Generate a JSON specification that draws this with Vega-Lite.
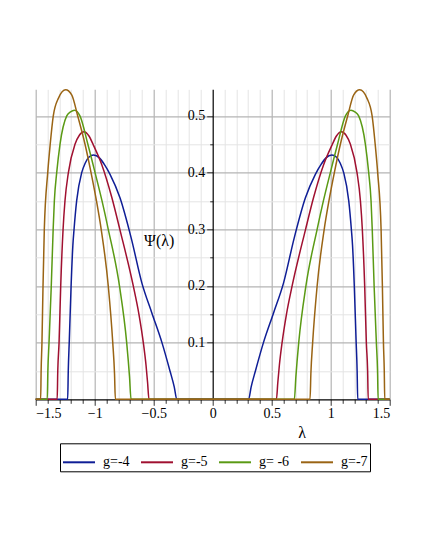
{
  "$schema": "https://vega.github.io/schema/vega-lite/v6.json",
  "width": 354,
  "height": 310,
  "autosize": {"type": "none"},
  "padding": {"left": 35.7, "top": 89.3, "right": 41.3, "bottom": 158.7},
  "background": "white",
  "config": {
    "view": {"stroke": null},
    "axis": {
      "labelFont": "Liberation Serif",
      "labelFontSize": 14,
      "labelColor": "black",
      "titleFont": "Liberation Serif",
      "titleFontSize": 16,
      "titleFontWeight": "normal",
      "titleColor": "black",
      "domainColor": "black",
      "tickColor": "#333333"
    }
  },
  "data": {
    "values": [
      {"g":"g=-4","x":-1.5,"y":0},{"g":"g=-4","x":-1.229,"y":0},{"g":"g=-4","x":-1.224,"y":0.05},{"g":"g=-4","x":-1.215,"y":0.105},{"g":"g=-4","x":-1.2,"y":0.2},{"g":"g=-4","x":-1.185,"y":0.272},{"g":"g=-4","x":-1.175,"y":0.3},{"g":"g=-4","x":-1.153,"y":0.35},{"g":"g=-4","x":-1.11,"y":0.4},{"g":"g=-4","x":-1.082,"y":0.416},{"g":"g=-4","x":-1.05,"y":0.427},{"g":"g=-4","x":-1.01,"y":0.431},{"g":"g=-4","x":-0.96,"y":0.426},{"g":"g=-4","x":-0.92,"y":0.415},{"g":"g=-4","x":-0.87,"y":0.397},{"g":"g=-4","x":-0.785,"y":0.355},{"g":"g=-4","x":-0.69,"y":0.284},{"g":"g=-4","x":-0.6,"y":0.205},{"g":"g=-4","x":-0.515,"y":0.152},{"g":"g=-4","x":-0.43,"y":0.1},{"g":"g=-4","x":-0.362,"y":0.05},{"g":"g=-4","x":-0.326,"y":0.022},{"g":"g=-4","x":-0.304,"y":0},
      {"g":"g=-4","x":0.304,"y":0},{"g":"g=-4","x":0.326,"y":0.022},{"g":"g=-4","x":0.362,"y":0.05},{"g":"g=-4","x":0.43,"y":0.1},{"g":"g=-4","x":0.515,"y":0.152},{"g":"g=-4","x":0.6,"y":0.205},{"g":"g=-4","x":0.69,"y":0.284},{"g":"g=-4","x":0.785,"y":0.355},{"g":"g=-4","x":0.87,"y":0.397},{"g":"g=-4","x":0.92,"y":0.415},{"g":"g=-4","x":0.96,"y":0.426},{"g":"g=-4","x":1.01,"y":0.431},{"g":"g=-4","x":1.05,"y":0.427},{"g":"g=-4","x":1.082,"y":0.416},{"g":"g=-4","x":1.11,"y":0.4},{"g":"g=-4","x":1.153,"y":0.35},{"g":"g=-4","x":1.175,"y":0.3},{"g":"g=-4","x":1.185,"y":0.272},{"g":"g=-4","x":1.2,"y":0.2},{"g":"g=-4","x":1.215,"y":0.105},{"g":"g=-4","x":1.224,"y":0.05},{"g":"g=-4","x":1.229,"y":0},{"g":"g=-4","x":1.5,"y":0},

      {"g":"g=-5","x":-1.5,"y":0},{"g":"g=-5","x":-1.318,"y":0},{"g":"g=-5","x":-1.313,"y":0.05},{"g":"g=-5","x":-1.302,"y":0.1},{"g":"g=-5","x":-1.288,"y":0.2},{"g":"g=-5","x":-1.268,"y":0.3},{"g":"g=-5","x":-1.252,"y":0.35},{"g":"g=-5","x":-1.223,"y":0.4},{"g":"g=-5","x":-1.167,"y":0.45},{"g":"g=-5","x":-1.13,"y":0.466},{"g":"g=-5","x":-1.09,"y":0.472},{"g":"g=-5","x":-1.05,"y":0.465},{"g":"g=-5","x":-1.01,"y":0.448},{"g":"g=-5","x":-0.94,"y":0.414},{"g":"g=-5","x":-0.856,"y":0.357},{"g":"g=-5","x":-0.786,"y":0.299},{"g":"g=-5","x":-0.673,"y":0.2},{"g":"g=-5","x":-0.625,"y":0.15},{"g":"g=-5","x":-0.588,"y":0.1},{"g":"g=-5","x":-0.565,"y":0.06},{"g":"g=-5","x":-0.552,"y":0.03},{"g":"g=-5","x":-0.54,"y":0},
      {"g":"g=-5","x":0.54,"y":0},{"g":"g=-5","x":0.552,"y":0.03},{"g":"g=-5","x":0.565,"y":0.06},{"g":"g=-5","x":0.588,"y":0.1},{"g":"g=-5","x":0.625,"y":0.15},{"g":"g=-5","x":0.673,"y":0.2},{"g":"g=-5","x":0.786,"y":0.299},{"g":"g=-5","x":0.856,"y":0.357},{"g":"g=-5","x":0.94,"y":0.414},{"g":"g=-5","x":1.01,"y":0.448},{"g":"g=-5","x":1.05,"y":0.465},{"g":"g=-5","x":1.09,"y":0.472},{"g":"g=-5","x":1.13,"y":0.466},{"g":"g=-5","x":1.167,"y":0.45},{"g":"g=-5","x":1.223,"y":0.4},{"g":"g=-5","x":1.252,"y":0.35},{"g":"g=-5","x":1.268,"y":0.3},{"g":"g=-5","x":1.288,"y":0.2},{"g":"g=-5","x":1.302,"y":0.1},{"g":"g=-5","x":1.313,"y":0.05},{"g":"g=-5","x":1.318,"y":0},{"g":"g=-5","x":1.5,"y":0},

      {"g":"g= -6","x":-1.5,"y":0},{"g":"g= -6","x":-1.402,"y":0},{"g":"g= -6","x":-1.397,"y":0.05},{"g":"g= -6","x":-1.387,"y":0.1},{"g":"g= -6","x":-1.368,"y":0.2},{"g":"g= -6","x":-1.352,"y":0.3},{"g":"g= -6","x":-1.342,"y":0.35},{"g":"g= -6","x":-1.322,"y":0.4},{"g":"g= -6","x":-1.294,"y":0.45},{"g":"g= -6","x":-1.237,"y":0.5},{"g":"g= -6","x":-1.205,"y":0.507},{"g":"g= -6","x":-1.172,"y":0.51},{"g":"g= -6","x":-1.125,"y":0.5},{"g":"g= -6","x":-1.058,"y":0.45},{"g":"g= -6","x":-0.997,"y":0.4},{"g":"g= -6","x":-0.938,"y":0.35},{"g":"g= -6","x":-0.885,"y":0.3},{"g":"g= -6","x":-0.79,"y":0.2},{"g":"g= -6","x":-0.729,"y":0.1},{"g":"g= -6","x":-0.705,"y":0.04},{"g":"g= -6","x":-0.692,"y":0},
      {"g":"g= -6","x":0.692,"y":0},{"g":"g= -6","x":0.705,"y":0.04},{"g":"g= -6","x":0.729,"y":0.1},{"g":"g= -6","x":0.79,"y":0.2},{"g":"g= -6","x":0.885,"y":0.3},{"g":"g= -6","x":0.938,"y":0.35},{"g":"g= -6","x":0.997,"y":0.4},{"g":"g= -6","x":1.058,"y":0.45},{"g":"g= -6","x":1.125,"y":0.5},{"g":"g= -6","x":1.172,"y":0.51},{"g":"g= -6","x":1.205,"y":0.507},{"g":"g= -6","x":1.237,"y":0.5},{"g":"g= -6","x":1.294,"y":0.45},{"g":"g= -6","x":1.322,"y":0.4},{"g":"g= -6","x":1.342,"y":0.35},{"g":"g= -6","x":1.352,"y":0.3},{"g":"g= -6","x":1.368,"y":0.2},{"g":"g= -6","x":1.387,"y":0.1},{"g":"g= -6","x":1.397,"y":0.05},{"g":"g= -6","x":1.402,"y":0},{"g":"g= -6","x":1.5,"y":0},

      {"g":"g=-7","x":-1.5,"y":0},{"g":"g=-7","x":-1.458,"y":0},{"g":"g=-7","x":-1.454,"y":0.05},{"g":"g=-7","x":-1.447,"y":0.1},{"g":"g=-7","x":-1.438,"y":0.2},{"g":"g=-7","x":-1.427,"y":0.3},{"g":"g=-7","x":-1.398,"y":0.4},{"g":"g=-7","x":-1.377,"y":0.45},{"g":"g=-7","x":-1.351,"y":0.5},{"g":"g=-7","x":-1.308,"y":0.531},{"g":"g=-7","x":-1.246,"y":0.546},{"g":"g=-7","x":-1.195,"y":0.537},{"g":"g=-7","x":-1.144,"y":0.5},{"g":"g=-7","x":-1.082,"y":0.45},{"g":"g=-7","x":-1.031,"y":0.4},{"g":"g=-7","x":-0.985,"y":0.35},{"g":"g=-7","x":-0.945,"y":0.3},{"g":"g=-7","x":-0.885,"y":0.2},{"g":"g=-7","x":-0.847,"y":0.1},{"g":"g=-7","x":-0.832,"y":0.045},{"g":"g=-7","x":-0.825,"y":0},
      {"g":"g=-7","x":0.825,"y":0},{"g":"g=-7","x":0.832,"y":0.045},{"g":"g=-7","x":0.847,"y":0.1},{"g":"g=-7","x":0.885,"y":0.2},{"g":"g=-7","x":0.945,"y":0.3},{"g":"g=-7","x":0.985,"y":0.35},{"g":"g=-7","x":1.031,"y":0.4},{"g":"g=-7","x":1.082,"y":0.45},{"g":"g=-7","x":1.144,"y":0.5},{"g":"g=-7","x":1.195,"y":0.537},{"g":"g=-7","x":1.246,"y":0.546},{"g":"g=-7","x":1.308,"y":0.531},{"g":"g=-7","x":1.351,"y":0.5},{"g":"g=-7","x":1.377,"y":0.45},{"g":"g=-7","x":1.398,"y":0.4},{"g":"g=-7","x":1.427,"y":0.3},{"g":"g=-7","x":1.438,"y":0.2},{"g":"g=-7","x":1.447,"y":0.1},{"g":"g=-7","x":1.454,"y":0.05},{"g":"g=-7","x":1.458,"y":0},{"g":"g=-7","x":1.5,"y":0}
    ]
  },
  "layer": [
    {
      "mark": {"type": "line", "opacity": 0},
      "encoding": {
        "x": {"field": "x", "type": "quantitative", "scale": {"domain": [-1.5, 1.5], "nice": false, "zero": false},
          "axis": {"orient": "bottom", "values": [-1.4,-1.3,-1.2,-1.1,-0.9,-0.8,-0.7,-0.6,-0.4,-0.3,-0.2,-0.1,0.1,0.2,0.3,0.4,0.6,0.7,0.8,0.9,1.1,1.2,1.3,1.4],
            "grid": true, "gridColor": "#e4e4e4", "gridWidth": 1, "ticks": false, "labels": false, "domain": false, "title": null}},
        "y": {"field": "y", "type": "quantitative", "scale": {"domain": [0, 0.547], "nice": false},
          "axis": {"orient": "left", "values": [0.05,0.15,0.25,0.35,0.45],
            "grid": true, "gridColor": "#e4e4e4", "gridWidth": 1, "ticks": false, "labels": false, "domain": false, "title": null}}
      }
    },
    {
      "mark": {"type": "line", "opacity": 0},
      "encoding": {
        "x": {"field": "x", "type": "quantitative",
          "axis": {"orient": "bottom", "values": [-1.5,-1,-0.5,0.5,1,1.5],
            "grid": true, "gridColor": "#b4b4b4", "gridWidth": 1.2, "ticks": false, "labels": false, "domain": false, "title": null}},
        "y": {"field": "y", "type": "quantitative",
          "axis": {"orient": "left", "values": [0.1,0.2,0.3,0.4,0.5],
            "grid": true, "gridColor": "#b4b4b4", "gridWidth": 1.2, "ticks": false, "labels": false, "domain": false, "title": null}}
      }
    },
    {
      "mark": {"type": "line", "opacity": 0},
      "encoding": {
        "x": {"field": "x", "type": "quantitative",
          "axis": {"orient": "bottom", "values": [-1.4,-1.3,-1.2,-1.1,-0.9,-0.8,-0.7,-0.6,-0.4,-0.3,-0.2,-0.1,0.1,0.2,0.3,0.4,0.6,0.7,0.8,0.9,1.1,1.2,1.3,1.4],
            "grid": false, "ticks": true, "tickSize": 4, "labels": false, "domain": false, "title": null}},
        "y": {"field": "y", "type": "quantitative",
          "axis": {"orient": "left", "offset": -177, "values": [0.05,0.15,0.25,0.35,0.45],
            "grid": false, "ticks": true, "tickSize": 3, "labels": false, "domain": false, "title": null}}
      }
    },
    {
      "mark": {"type": "line", "strokeWidth": 1.5, "interpolate": "monotone"},
      "encoding": {
        "x": {"field": "x", "type": "quantitative",
          "axis": {"orient": "bottom", "values": [-1.5,-1,-0.5,0,0.5,1,1.5], "format": "~g",
            "labelExpr": "replace(datum.label, '-', '−')",
            "grid": false, "ticks": true, "tickSize": 6, "labelPadding": 1, "domain": true, "domainWidth": 1.2,
            "title": "λ", "titleX": 266, "titleY": 33, "titleAlign": "center", "titleBaseline": "middle", "titleAngle": 0}},
        "y": {"field": "y", "type": "quantitative",
          "axis": {"orient": "left", "offset": -177, "values": [0.1,0.2,0.3,0.4,0.5], "format": "~g",
            "grid": false, "ticks": true, "tickSize": 6, "labelPadding": 2, "domain": true, "domainWidth": 1.2,
            "title": "Ψ(λ)", "titleX": -54, "titleY": 151, "titleAlign": "center", "titleBaseline": "middle", "titleAngle": 0}},
        "color": {"field": "g", "type": "nominal",
          "scale": {"domain": ["g=-4", "g=-5", "g= -6", "g=-7"], "range": ["#0F1E96", "#A01030", "#5A9A14", "#9A6414"]},
          "legend": {"orient": "none", "legendX": 24.3, "legendY": 354, "direction": "horizontal", "title": null,
            "strokeColor": "black", "padding": 2, "symbolType": "stroke", "symbolSize": 1024, "symbolStrokeWidth": 2,
            "labelFont": "Liberation Serif", "labelFontSize": 14, "labelColor": "black", "labelOffset": 7, "columnPadding": 7}}
      }
    }
  ],
  "resolve": {"axis": {"x": "independent", "y": "independent"}}
}
